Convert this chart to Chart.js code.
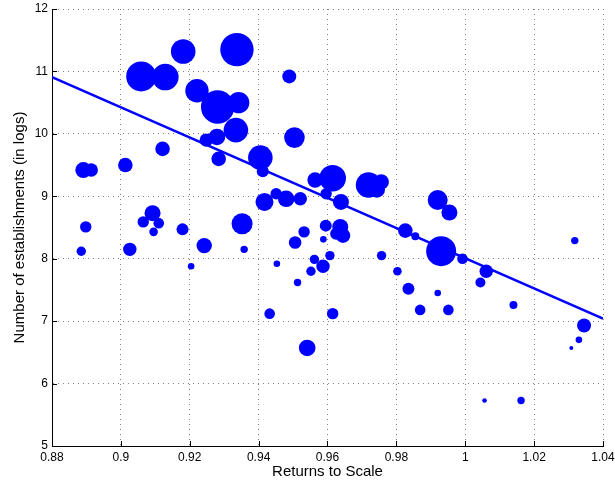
<!DOCTYPE html>
<html>
<head>
<meta charset="utf-8">
<script src="https://cdn.jsdelivr.net/npm/chart.js@4"></script>
<style>
  body { margin: 0; background: #fff; }
  canvas { display: block; }
</style>
</head>
<body>
<canvas id="rts-chart" width="615" height="485"></canvas>
<script>
// bubble data
const returnsToScale = [
  0.9059, 0.9129, 0.9181, 0.9337, 0.9221, 0.9281, 0.9342, 0.9334, 0.9279, 0.9248,
  0.9121, 0.9489, 0.9504, 0.9405, 0.8891, 0.8914, 0.9013, 0.9284, 0.9412, 0.9564,
  0.9615, 0.9596, 0.9719, 0.9756, 0.9743, 0.9417, 0.9451, 0.9480, 0.9521, 0.9639,
  0.9352, 0.9092, 0.9065, 0.9110, 0.9095, 0.8898, 0.8885, 0.9026, 0.9179, 0.9242,
  0.9204, 0.9595, 0.9637, 0.9645, 0.9625, 0.9532, 0.9506, 0.9588, 0.9358, 0.9826,
  0.9855, 0.9453, 0.9562, 0.9607, 0.9587, 0.9552, 0.9513, 0.9757, 0.9803, 0.9835,
  0.9869, 0.9432, 0.9615, 0.9541, 0.9920, 0.9954, 0.9930, 0.9992, 1.0061, 1.0044,
  1.0318, 0.9920, 0.9951, 1.0140, 1.0345, 1.0330, 1.0308, 1.0056, 1.0162
];
const establishments = [
  10.92, 10.91, 11.32, 11.35, 10.69, 10.43, 10.50, 10.06, 9.95, 9.90,
  9.76, 10.92, 9.94, 9.62, 9.42, 9.42, 9.50, 9.60, 9.40, 9.26,
  9.29, 9.04, 9.18, 9.23, 9.11, 8.91, 9.04, 8.96, 8.96, 8.91,
  8.56, 8.73, 8.59, 8.57, 8.43, 8.51, 8.12, 8.15, 8.47, 8.21,
  7.88, 8.53, 8.51, 8.37, 8.40, 8.43, 8.26, 8.31, 8.15, 8.45,
  8.36, 7.92, 7.99, 8.05, 7.88, 7.80, 7.62, 8.05, 7.80, 7.52,
  7.18, 7.12, 7.12, 6.57, 8.94, 8.74, 8.12, 8.00, 7.80, 7.62,
  8.29, 7.45, 7.18, 7.26, 6.93, 6.70, 6.57, 5.73, 5.73
];
const bubbleSize = [
  15, 13.3, 12.3, 16.7, 11.7, 16.7, 10.7, 12.3, 8.3, 6.7,
  7.3, 7, 10.3, 12.3, 8, 6.7, 7.3, 7.3, 6, 7.7,
  13.3, 5.7, 12.7, 7.7, 8.3, 9, 5.7, 8.3, 6.7, 8,
  10.5, 8, 5.7, 5.3, 4.3, 5.7, 4.7, 6.7, 6, 7.7,
  3.3, 6, 8, 7.3, 6, 5.7, 6.3, 3.3, 3.7, 7.3,
  4, 3.3, 4.7, 4.7, 6.7, 4.7, 3.7, 4.7, 4.3, 6,
  5.3, 5.3, 5.7, 8.3, 10, 8, 15, 5.3, 6.7, 5,
  3.7, 3.3, 5.3, 4, 7, 3.3, 2, 2.3, 3.7
];

// fitted line end points
const fitX = [0.88, 1.04];
const fitY = [10.91, 7.04];

const xTicks = [0.88, 0.9, 0.92, 0.94, 0.96, 0.98, 1, 1.02, 1.04];
const yTicks = [5, 6, 7, 8, 9, 10, 11, 12];

const blue = '#0000ff';

// inward tick marks, matlab style
const innerTicks = {
  id: 'innerTicks',
  afterDatasetsDraw(chart) {
    const {ctx, chartArea, scales} = chart;
    ctx.save();
    ctx.strokeStyle = '#000';
    ctx.lineWidth = 1;
    ctx.beginPath();
    xTicks.forEach(v => {
      const px = Math.round(scales.x.getPixelForValue(v)) + 0.5;
      ctx.moveTo(px, chartArea.bottom);
      ctx.lineTo(px, chartArea.bottom - 5);
    });
    yTicks.forEach(v => {
      const py = Math.round(scales.y.getPixelForValue(v)) + 0.5;
      ctx.moveTo(chartArea.left, py);
      ctx.lineTo(chartArea.left + 5, py);
    });
    ctx.stroke();
    ctx.restore();
  }
};

Chart.defaults.font.family = '"Liberation Sans", Arial, Helvetica, sans-serif';
Chart.defaults.color = '#000';

const ctx = document.getElementById('rts-chart').getContext('2d');
new Chart(ctx, {
  type: 'bubble',
  data: {
    datasets: [{
      type: 'line',
      data: fitX.map((x, i) => ({x: x, y: fitY[i]})),
      borderColor: blue,
      borderWidth: 2.5,
      pointRadius: 0,
      fill: false
    }, {
      data: returnsToScale.map((x, i) => ({x: x, y: establishments[i], r: bubbleSize[i]})),
      backgroundColor: blue,
      borderWidth: 0,
      hoverRadius: 0
    }]
  },
  options: {
    responsive: false,
    animation: false,
    events: [],
    layout: { autoPadding: false, padding: { top: 9, right: 12, left: 0, bottom: 0 } },
    plugins: {
      legend: { display: false },
      tooltip: { enabled: false }
    },
    scales: {
      x: {
        type: 'linear',
        min: 0.88,
        max: 1.04,
        afterBuildTicks(scale) { scale.ticks = xTicks.map(v => ({value: v})); },
        afterFit(scale) {
          scale.height = 39;
          scale.paddingLeft = 0;
          scale.paddingRight = 0;
        },
        ticks: {
          font: { size: 12 },
          padding: 4,
          maxRotation: 0,
          callback: v => String(+v.toFixed(2))
        },
        grid: { color: 'rgba(0,0,0,0.5)', drawTicks: false },
        border: { display: true, color: '#000', width: 1, dash: [1, 4] },
        title: {
          display: true,
          text: 'Returns to Scale',
          font: { size: 15 },
          padding: { top: 0, bottom: 4 }
        }
      },
      y: {
        type: 'linear',
        min: 5,
        max: 12,
        afterBuildTicks(scale) { scale.ticks = yTicks.map(v => ({value: v})); },
        afterFit(scale) {
          scale.width = 52;
          scale.paddingTop = 0;
          scale.paddingBottom = 0;
        },
        ticks: { font: { size: 12 }, padding: 4 },
        grid: { color: 'rgba(0,0,0,0.5)', drawTicks: false },
        border: { display: true, color: '#000', width: 1, dash: [1, 4] },
        title: {
          display: true,
          text: 'Number of establishments (in logs)',
          font: { size: 15 },
          padding: { top: 11, bottom: 0 }
        }
      }
    }
  },
  plugins: [innerTicks]
});
</script>
</body>
</html>
